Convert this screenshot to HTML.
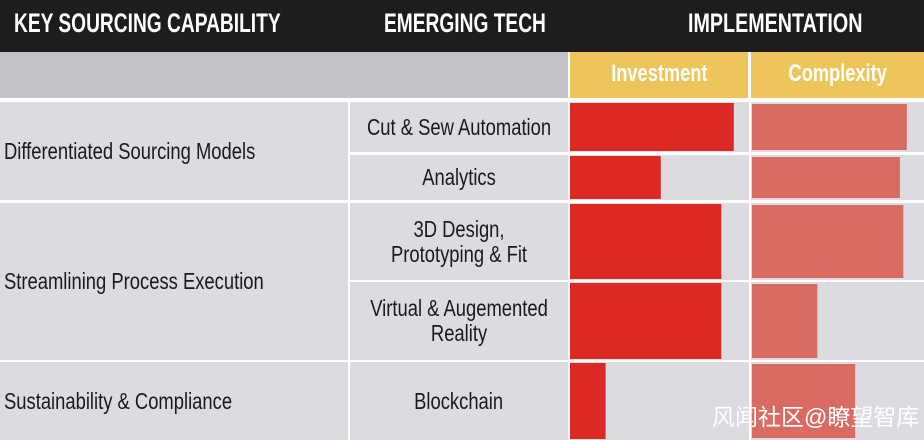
<!DOCTYPE html>
<html><head><meta charset="utf-8"><style>
body{margin:0;width:924px;height:440px;overflow:hidden;background:#fff;font-family:"Liberation Sans Narrow","Liberation Sans",sans-serif;}
#c{position:relative;width:924px;height:440px;}
.a{position:absolute;box-sizing:border-box;}
.hd{color:#fff;font-weight:bold;font-size:27px;top:8px;white-space:nowrap;transform:scaleX(0.71);transform-origin:0 0;}
.lab{display:flex;align-items:center;color:#1a1a1a;font-size:23px;line-height:25px;}
.sq{display:inline-block;white-space:nowrap;transform:scaleX(0.8);}
.sub{color:#fff;font-weight:bold;font-size:24px;text-align:center;line-height:44px;}
.sub span{display:inline-block;transform:scaleX(0.76);}
</style></head><body>
<div id="c">
<div class="a" style="left:0;top:0;width:924px;height:52px;background:#1e1c1d"></div>
<div class="a hd" style="left:14px">KEY SOURCING CAPABILITY</div>
<div class="a hd" style="left:384px">EMERGING TECH</div>
<div class="a hd" style="left:688px;transform:scaleX(0.73)">IMPLEMENTATION</div>
<div class="a" style="left:0;top:52px;width:568px;height:46px;background:#c3c3c7"></div>
<div class="a sub" style="left:570px;top:52px;width:178px;height:46px;background:#eec55a"><span>Investment</span></div>
<div class="a sub" style="left:751px;top:52px;width:173px;height:46px;background:#eec55a"><span>Complexity</span></div>
<svg class="a" style="left:0;top:0" width="924" height="440" id="s"></svg>
<div class="a" style="left:712px;top:398px;color:#fff;font-size:23px;font-family:'Liberation Sans','Noto Sans CJK SC',sans-serif;white-space:nowrap">风闻社区@瞭望智库</div>
</div>
<script>
const techs=["Cut & Sew Automation","Analytics","3D Design,|Prototyping & Fit","Virtual & Augemented|Reality","Blockchain"];
const investment=[92,51,85,85,20];
const complexity=[90,86,88,38,60];
const categories=["Differentiated Sourcing Models","Streamlining Process Execution","Sustainability & Compliance"];
const catSpan=[[0,1],[2,3],[4,4]];
const rowTop=[102,155,203,282,362], rowBot=[152,200,280,360,440];
const ns="http://www.w3.org/2000/svg",s=document.getElementById('s'),c=document.getElementById('c');
function r(x,y,w,h,f){const e=document.createElementNS(ns,'rect');e.setAttribute('x',x);e.setAttribute('y',y);e.setAttribute('width',w);e.setAttribute('height',h);e.setAttribute('fill',f);s.appendChild(e);return e;}
const inv=x=>570+x/100*178, cmp=x=>752+x/100*172;
techs.forEach((t,i)=>{
 const y=rowTop[i],h=rowBot[i]-rowTop[i];
 let g=r(350,y,218,h,'#dcdce0');
 g=r(570,y,179,h,'#dcdce0');
 g=r(751,y,173,h,'#dcdce0');
 let b=r(570,y+1,inv(investment[i])-570,h-2,'#dd2824');
 
 
 b=r(752,y+2,cmp(complexity[i])-752,h-4,'#da6b62');
 
 
 const d=document.createElement('div');d.className='a lab';
 d.style.cssText=`left:350px;top:${y}px;width:218px;height:${h}px;justify-content:center;text-align:center`;
 d.innerHTML='<span class="sq">'+t.replace('|','<br>')+'</span>';
 
 
 c.appendChild(d);
});
categories.forEach((t,i)=>{
 const y=rowTop[catSpan[i][0]],h=rowBot[catSpan[i][1]]-y;
 const g=r(0,y,348,h,'#dcdce0');
 
 
 const d=document.createElement('div');d.className='a lab';
 d.style.cssText=`left:4px;top:${y}px;width:340px;height:${h}px`;
 d.innerHTML='<span class="sq" style="transform-origin:0 50%">'+t.replace('&','&amp;')+'</span>';
 
 
 c.appendChild(d);
});
</script>
</body></html>
